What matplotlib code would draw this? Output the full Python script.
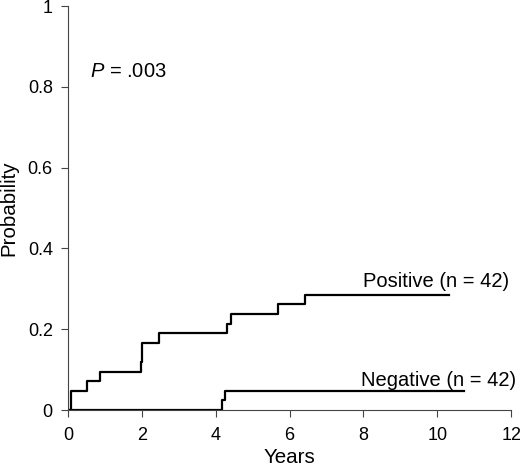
import matplotlib
matplotlib.use("Agg")
import matplotlib.pyplot as plt

plt.rcParams['font.family'] = ['Liberation Sans', 'DejaVu Sans']
plt.rcParams['mathtext.fontset'] = 'custom'
plt.rcParams['mathtext.rm'] = 'Liberation Sans'
plt.rcParams['mathtext.it'] = 'Liberation Sans:italic'

# --- Kaplan-Meier style step data ---
pos_years = [0, 0.08, 0.50, 0.87, 1.98, 2.00, 2.45, 4.29, 4.40, 5.68, 6.42, 10.32]
pos_prob = [0, 0.048, 0.071, 0.095, 0.119, 0.167, 0.190, 0.214, 0.238, 0.262, 0.286, 0.286]

neg_years = [0, 4.18, 4.26, 10.71]
neg_prob = [0, 0.024, 0.048, 0.048]

x_ticks = [0, 2, 4, 6, 8, 10, 12]
y_ticks = [0, 0.2, 0.4, 0.6, 0.8, 1]
y_tick_labels = ['0', '0.2', '0.4', '0.6', '0.8', '1']

fig = plt.figure(figsize=(5.2, 4.66), dpi=100)
ax = fig.add_axes([0.131, 0.120, 0.852, 0.867])

ax.step(pos_years, pos_prob, where='post', color='black', linewidth=1.6)
ax.step(neg_years, neg_prob, where='post', color='black', linewidth=1.6)

ax.text(7.99, 0.304, 'Positive (n = 42)', fontsize=14.5, va='baseline')
ax.text(7.93, 0.060, 'Negative (n = 42)', fontsize=14.5, va='baseline', clip_on=False)
ax.text(0.6, 0.825, r'$\mathit{P}$ = .003', fontsize=14.5, va='baseline')

ax.set_xlim(0, 12)
ax.set_ylim(0, 1)
ax.set_xticks(x_ticks)
ax.set_yticks(y_ticks)
ax.set_yticklabels(y_tick_labels)
ax.tick_params(labelsize=13, length=5, width=0.8, direction='out', color='#444444')
ax.tick_params(axis='x', pad=7)
ax.tick_params(axis='y', pad=6)

for side in ['top', 'right']:
    ax.spines[side].set_visible(False)
for side in ['left', 'bottom']:
    ax.spines[side].set_linewidth(0.8)
    ax.spines[side].set_color('#444444')

ax.set_xlabel('Years', fontsize=14.8, labelpad=3)
ax.set_ylabel('Probability', fontsize=14.8, labelpad=7)

fig.savefig('out.png', dpi=100)
